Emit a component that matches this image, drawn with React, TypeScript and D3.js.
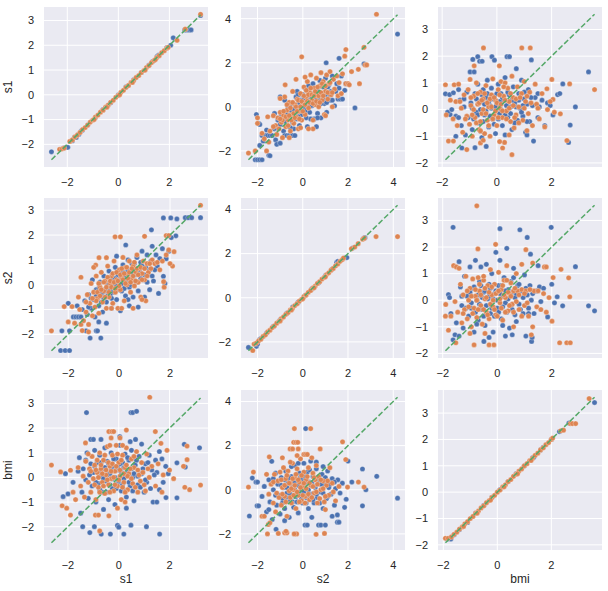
import React from 'react';
import * as d3 from 'd3';

type P = [number, number];

const varNames = ['s1', 's2', 'bmi'];
const xTicksByCol = [[-2, 0, 2], [-2, 0, 2, 4], [-2, 0, 2]];
const yTicksByCol = [[-2, -1, 0, 1, 2, 3], [-2, 0, 2, 4], [-2, -1, 0, 1, 2, 3]];

// row s1 / col s1
const tlBlue: P[] = [[-2.62,-2.3],[-2.15,-2.15],[-2.05,-2.12],[-1.98,-2.12],[-1.8,-1.85],[-1.72,-1.72],[-1.65,-1.72],[-1.55,-1.6],[-1.45,-1.45],[-1.4,-1.42],[-1.2,-1.22],[-0.9,-0.92],[-0.6,-0.6],[-0.3,-0.32],[0.0,0.0],[0.3,0.32],[0.6,0.6],[0.9,0.9],[1.2,1.2],[1.35,1.35],[1.52,1.55],[1.58,1.6],[1.9,1.9],[2.05,2.0],[2.15,2.3],[2.6,2.62],[2.68,2.62],[2.78,2.62],[2.85,2.62],[3.22,3.2]];
const tlOrange: P[] = [[-2.3,-2.2],[-2.2,-2.18],[-2.12,-2.15],[-1.9,-1.88],[-1.8,-1.82],[-1.7,-1.7],[-1.6,-1.62],[-1.5,-1.52],[-1.4,-1.4],[-1.3,-1.32],[-1.2,-1.22],[-1.1,-1.1],[-1.0,-1.02],[-0.9,-0.9],[-0.8,-0.82],[-0.7,-0.7],[-0.6,-0.62],[-0.5,-0.5],[-0.4,-0.42],[-0.3,-0.3],[-0.2,-0.22],[-0.1,-0.1],[0.0,-0.02],[0.1,0.1],[0.2,0.18],[0.3,0.3],[0.4,0.38],[0.5,0.5],[0.6,0.58],[0.7,0.7],[0.8,0.78],[0.9,0.9],[1.0,0.98],[1.1,1.1],[1.2,1.18],[1.3,1.3],[1.4,1.38],[1.5,1.5],[1.6,1.58],[1.7,1.7],[1.8,1.78],[1.9,1.88],[1.95,1.92],[2.3,2.2],[2.62,2.65],[3.22,3.25],[-0.95,-1.0],[-0.45,-0.5],[0.05,0.0],[0.55,0.5],[1.05,1.0],[1.45,1.42]];

// row s1 / col s2
const tmBlue: P[] = [[-2.1,-2.4],[-2.0,-2.4],[-1.9,-2.4],[-1.8,-2.4],[-1.5,-2.2],[-1.45,-2.22],[-2.05,-0.35],[-1.95,-0.75],[-1.9,-1.75],[-1.75,-1.55],[-1.8,-1.3],[-1.65,-1.3],[-1.55,-1.3],[-1.45,-1.3],[-1.35,-1.3],[-1.6,-1.05],[-1.25,-1.0],[-1.2,-1.5],[-1.15,-1.7],[-1.0,-1.65],[-1.0,-0.8],[-0.95,-0.35],[-0.9,-0.55],[-0.85,-1.1],[-0.8,-1.3],[-0.7,-1.3],[-0.6,-1.3],[-0.5,-1.3],[-0.45,-1.3],[-0.75,-0.2],[-0.7,-0.6],[-0.65,0.0],[-0.6,-0.9],[-0.55,-0.45],[-0.5,0.15],[-0.45,-0.7],[-0.4,-1.0],[-0.35,-0.2],[-0.3,0.45],[-0.3,-0.55],[-0.25,0.7],[-0.2,0.0],[-0.15,-0.85],[-0.1,0.3],[-0.05,-0.35],[0.0,0.55],[0.05,-0.1],[0.1,0.85],[0.15,-0.5],[0.2,0.25],[0.25,0.95],[0.3,-0.25],[0.35,0.6],[0.4,0.05],[0.45,1.05],[0.5,-0.55],[0.55,0.4],[0.6,0.75],[0.65,-0.3],[0.7,0.2],[0.75,1.2],[0.8,-0.5],[0.85,0.55],[0.9,0.9],[0.95,0.15],[1.0,1.3],[1.05,-0.25],[1.1,0.6],[1.15,1.0],[1.2,0.3],[1.25,0.7],[1.35,0.7],[1.45,0.7],[1.3,1.4],[1.4,0.05],[1.5,1.05],[1.55,0.35],[1.65,0.35],[1.75,0.35],[1.6,0.85],[1.7,1.4],[1.85,0.75],[1.9,1.05],[1.03,2.0],[1.6,2.2],[2.7,1.95],[2.3,-0.05],[4.18,3.3],[-1.0,0.45],[-1.25,-0.3],[-0.8,0.3],[0.2,-0.9],[-0.35,-1.3],[0.6,-0.9],[-1.9,-0.8]];
const tmBlueCore: P[] = [[-0.9,-0.5],[-0.8,-0.65],[-0.7,-0.35],[-0.6,-0.55],[-0.5,-0.2],[-0.45,-0.45],[-0.4,-0.1],[-0.3,-0.3],[-0.25,0.1],[-0.2,-0.45],[-0.15,0.2],[-0.1,-0.15],[0.0,0.1],[0.05,0.35],[0.1,-0.2],[0.15,0.15],[0.2,0.5],[0.25,0.0],[0.3,0.3],[0.35,0.05],[0.4,0.45],[0.45,0.2],[0.5,0.6],[0.55,0.15],[0.6,0.4],[0.7,0.55],[0.75,0.3],[0.8,0.15],[0.9,0.35],[1.0,0.55],[1.05,0.2],[1.1,0.9],[1.2,0.55],[-1.1,-0.6],[-1.2,-0.95],[-0.55,-0.95],[0.35,-0.55],[0.65,-0.5],[0.8,0.95],[1.3,0.3],[-0.2,0.55],[0.2,0.75]];
const tmOrange: P[] = [[3.25,4.2],[-0.05,2.27],[1.9,2.6],[2.7,2.7],[2.75,1.9],[2.82,1.9],[2.45,1.7],[2.15,1.6],[2.5,1.05],[1.85,2.3],[1.9,1.05],[2.0,1.05],[2.05,1.0],[-2.4,-2.1],[-2.1,-2.0],[-1.6,-2.0],[-2.0,-0.75],[-1.5,-1.6],[-1.8,-1.2],[-1.7,-1.45],[-1.45,-1.1],[-1.3,-0.4],[-1.2,-0.85],[-1.15,-1.25],[-1.1,-0.5],[-1.05,-1.0],[-1.0,-0.25],[-0.95,-0.7],[-0.9,-1.4],[-0.85,-0.4],[-0.8,0.45],[-0.75,-0.9],[-0.7,-0.15],[-0.65,-0.6],[-0.6,0.2],[-0.55,-1.1],[-0.5,-0.35],[-0.45,0.7],[-0.4,-0.75],[-0.35,0.1],[-0.3,1.25],[-0.3,-0.45],[-0.25,0.35],[-0.2,-1.0],[-0.15,-0.2],[-0.1,0.6],[-0.05,-0.6],[0.0,0.2],[0.05,0.9],[0.1,-0.35],[0.15,0.45],[0.2,1.15],[0.25,-0.05],[0.3,0.65],[0.35,1.45],[0.4,0.3],[0.45,-0.6],[0.5,0.85],[0.55,0.1],[0.6,1.3],[0.65,0.5],[0.7,0.0],[0.75,0.95],[0.8,1.55],[0.85,0.3],[0.9,1.15],[0.95,-0.35],[1.0,0.7],[1.05,1.45],[1.1,0.35],[1.15,1.05],[1.2,1.6],[1.25,0.55],[1.3,0.0],[1.35,1.25],[1.4,0.8],[1.5,1.4],[1.55,0.5],[1.6,1.1],[1.7,0.6],[1.75,1.5],[0.45,-1.0],[0.25,-1.0],[-0.1,-0.95],[1.0,-0.4],[-1.55,-0.45],[-2.0,-0.5],[0.1,1.35],[-0.6,-1.4],[-0.78,1.0],[-1.0,0.38]];
const tmOrangeCore: P[] = [[-0.9,-0.6],[-0.85,-0.2],[-0.75,-0.45],[-0.7,0.1],[-0.6,-0.4],[-0.55,-0.05],[-0.5,-0.6],[-0.45,0.2],[-0.4,-0.3],[-0.35,-0.5],[-0.3,0.0],[-0.25,-0.2],[-0.2,0.3],[-0.15,-0.55],[-0.1,0.0],[-0.05,0.25],[0.0,-0.2],[0.05,0.5],[0.1,0.1],[0.15,0.75],[0.2,0.25],[0.25,0.55],[0.3,0.2],[0.35,0.85],[0.4,0.55],[0.45,0.15],[0.5,0.5],[0.55,0.7],[0.6,0.25],[0.65,0.9],[0.7,0.5],[0.8,0.65],[0.85,1.05],[0.9,0.5],[1.0,0.95],[1.1,0.65],[1.2,1.1],[1.3,0.65],[-1.3,-0.9],[-1.0,-0.55],[0.75,0.2],[-0.65,-0.85]];

// row s1 / col bmi
const trBlue: P[] = [[-1.88,0.59],[-1.73,0.56],[-1.59,0.63],[-1.71,-0.19],[-1.8,-0.1],[-1.65,0.0],[-1.5,-0.25],[-1.28,-1.44],[-1.4,0.75],[-1.35,0.35],[-1.3,-0.6],[-1.2,0.1],[-1.15,-0.95],[-1.1,0.65],[-1.05,-0.3],[-0.98,1.41],[-0.95,0.25],[-0.9,-0.75],[-0.88,1.88],[-0.83,1.41],[-0.8,-1.43],[-0.8,0.6],[-0.75,-0.1],[-0.7,1.98],[-0.7,0.95],[-0.65,-0.5],[-0.63,1.81],[-0.6,0.3],[-0.55,-1.05],[-0.54,1.81],[-0.5,0.75],[-0.45,-0.2],[-0.4,0.45],[-0.39,-1.38],[-0.35,1.1],[-0.3,-0.65],[-0.25,0.15],[-0.2,0.8],[-0.18,1.98],[-0.15,-0.35],[-0.1,0.5],[-0.09,1.85],[-0.05,-0.9],[0.0,0.2],[0.05,0.95],[0.1,-0.15],[0.15,0.6],[0.2,-0.6],[0.25,0.35],[0.3,1.2],[0.37,1.98],[0.46,1.98],[0.4,-0.3],[0.45,0.55],[0.5,0.1],[0.55,-0.75],[0.6,0.85],[0.65,0.25],[0.71,1.53],[0.75,-0.4],[0.8,0.6],[0.85,0.05],[0.9,1.1],[0.95,-0.25],[1.0,0.4],[1.05,-0.85],[1.1,0.2],[1.15,0.75],[1.2,-0.45],[1.26,1.86],[1.3,0.15],[1.34,-1.18],[1.4,0.45],[1.5,-0.3],[1.55,0.1],[1.65,0.35],[1.75,-0.6],[1.85,0.25],[1.95,0.15],[2.05,-0.2],[2.22,0.56],[2.3,0.6],[2.41,0.96],[2.87,0.1],[3.35,1.41],[2.68,-0.58],[2.62,-1.23],[0.3,-0.95],[-1.5,-1.0],[1.1,-0.95]];
const trBlueCore: P[] = [[-0.9,0.05],[-0.85,-0.35],[-0.75,0.4],[-0.7,-0.2],[-0.6,0.0],[-0.55,0.55],[-0.5,-0.45],[-0.45,0.2],[-0.4,-0.05],[-0.35,0.6],[-0.3,0.3],[-0.25,-0.25],[-0.2,0.05],[-0.15,0.4],[-0.1,-0.55],[-0.05,0.1],[0.0,0.6],[0.05,-0.35],[0.1,0.3],[0.15,0.0],[0.2,0.45],[0.3,-0.2],[0.35,0.15],[0.4,0.65],[0.5,-0.15],[0.55,0.35],[0.65,-0.5],[0.7,0.1],[0.8,0.35],[0.9,-0.1],[1.0,0.65],[1.1,-0.45],[1.25,0.45],[-1.2,0.4],[-1.4,-0.3],[1.5,0.6],[0.95,0.15],[-0.6,-0.8]];
const trOrange: P[] = [[-0.49,2.31],[0.91,2.31],[1.22,2.31],[0.09,1.64],[-0.83,1.64],[-0.98,1.13],[-1.88,0.93],[-1.56,0.93],[2.01,1.13],[1.83,0.78],[3.57,0.75],[2.66,0.96],[2.32,-0.16],[2.05,0.38],[0.55,-1.69],[2.56,-1.16],[-1.1,-1.5],[-1.77,-1.18],[-1.59,-1.18],[0.21,-1.44],[0.28,-1.23],[0.63,-0.69],[1.1,-0.79],[-1.85,-0.2],[-1.6,-0.35],[-1.5,0.3],[-1.45,-0.6],[-1.4,0.95],[-1.3,0.05],[-1.25,-0.85],[-1.2,0.55],[-1.1,-0.25],[-1.05,0.75],[-1.0,-0.55],[-0.95,0.15],[-0.9,-1.0],[-0.85,0.5],[-0.8,-0.3],[-0.75,1.0],[-0.7,0.2],[-0.65,-0.75],[-0.6,0.65],[-0.55,-0.15],[-0.5,0.4],[-0.45,-0.9],[-0.4,0.9],[-0.35,-0.4],[-0.3,0.1],[-0.25,-1.0],[-0.2,0.55],[-0.15,1.15],[-0.1,-0.2],[-0.05,0.35],[0.0,-0.6],[0.05,0.75],[0.1,0.05],[0.15,1.05],[0.2,-0.3],[0.25,0.5],[0.3,1.0],[0.35,-0.05],[0.4,0.8],[0.45,0.3],[0.5,-0.45],[0.55,1.25],[0.6,0.45],[0.7,-0.2],[0.75,0.85],[0.8,0.1],[0.9,0.6],[0.95,-0.4],[1.0,1.05],[1.05,0.3],[1.15,-0.15],[1.2,0.65],[1.3,-0.6],[1.4,0.95],[1.45,0.2],[1.55,-0.35],[1.65,0.6],[1.75,-0.65],[1.85,0.0],[1.95,0.3],[2.1,-0.1],[0.1,-1.2],[-0.6,-1.25],[0.45,-0.95],[-1.7,0.35],[-0.5,-1.15]];
const trOrangeCore: P[] = [[-0.95,0.45],[-0.9,-0.2],[-0.85,0.0],[-0.75,-0.5],[-0.7,0.6],[-0.65,0.25],[-0.6,-0.45],[-0.55,0.35],[-0.5,0.0],[-0.45,0.6],[-0.4,-0.15],[-0.35,0.25],[-0.3,-0.6],[-0.25,0.4],[-0.2,0.1],[-0.15,-0.35],[-0.1,0.45],[-0.05,-0.05],[0.0,0.25],[0.05,-0.3],[0.1,0.55],[0.15,0.2],[0.2,-0.05],[0.25,0.85],[0.3,0.35],[0.35,-0.35],[0.45,0.05],[0.5,0.6],[0.6,0.15],[0.65,-0.3],[0.7,0.4],[0.8,-0.5],[0.85,0.45],[1.0,0.05],[1.1,0.5],[1.25,0.25],[-1.15,-0.35],[-1.35,0.3],[1.5,0.05],[-0.6,-0.8]];

// row s2 / col s1
const mlBlue: P[] = [[3.2,2.7],[2.6,2.7],[2.72,2.7],[2.85,2.7],[2.03,2.69],[2.27,2.65],[1.74,2.69],[1.27,2.21],[2.23,1.97],[0.26,1.6],[1.74,0.34],[1.8,0.05],[1.35,0.15],[-2.3,-2.65],[-2.12,-2.65],[-1.95,-2.65],[-2.25,-1.86],[-1.95,-1.86],[-1.3,-1.86],[-0.9,-1.86],[-0.85,-1.86],[-1.14,-2.15],[-0.72,-2.15],[-0.5,-1.55],[-2.0,-0.75],[-1.8,-1.3],[-1.7,-1.3],[-1.6,-1.3],[-1.5,-1.3],[-1.45,-1.0],[-1.35,-0.65],[-1.25,-1.2],[-1.2,-0.4],[-1.1,-0.95],[-1.05,0.2],[-1.0,-0.6],[-0.95,-1.3],[-0.9,-0.2],[-0.8,-0.85],[-0.75,0.1],[-0.7,-0.45],[-0.65,-1.1],[-0.6,0.35],[-0.55,-0.2],[-0.5,-0.7],[-0.45,0.05],[-0.4,0.55],[-0.35,-0.4],[-0.3,-0.95],[-0.25,0.25],[-0.2,-0.15],[-0.15,0.7],[-0.1,-0.6],[-0.05,0.1],[0.0,0.45],[0.05,-1.05],[0.1,-0.25],[0.15,0.8],[0.2,0.15],[0.25,-0.45],[0.3,0.5],[0.35,1.0],[0.4,-0.1],[0.45,0.3],[0.5,0.85],[0.55,-0.5],[0.6,0.6],[0.65,0.15],[0.7,1.1],[0.75,-0.25],[0.8,0.45],[0.85,0.9],[0.9,1.35],[0.95,0.2],[1.0,-0.5],[1.05,0.7],[1.1,1.2],[1.15,0.4],[1.2,-0.2],[1.25,0.95],[1.3,1.55],[1.4,0.6],[1.45,1.2],[1.5,0.75],[1.6,1.05],[1.7,1.45],[1.85,1.05],[1.95,1.35],[2.05,1.9],[0.75,-0.9],[-1.65,-0.85],[1.55,-0.35],[-0.8,-1.5],[0.4,-0.85],[-0.1,1.15]];
const mlBlueCore: P[] = [[-0.9,-0.45],[-0.8,-0.15],[-0.7,-0.7],[-0.65,-0.3],[-0.6,-0.55],[-0.5,-0.25],[-0.45,-0.45],[-0.4,0.0],[-0.35,-0.2],[-0.3,-0.55],[-0.25,0.05],[-0.2,-0.3],[-0.15,0.25],[-0.1,-0.05],[-0.05,0.4],[0.0,-0.2],[0.05,0.25],[0.1,0.05],[0.15,0.5],[0.2,-0.15],[0.25,0.3],[0.3,0.1],[0.35,0.55],[0.4,0.25],[0.45,0.0],[0.5,0.45],[0.55,0.2],[0.6,0.85],[0.65,0.4],[0.7,0.1],[0.8,0.6],[0.85,0.25],[0.9,0.75],[1.0,0.4],[1.1,0.1],[1.2,0.6],[-1.1,-0.55],[-1.2,-0.9],[1.3,0.35],[0.35,-0.6]];
const mlOrange: P[] = [[3.2,3.2],[1.0,1.95],[1.85,1.98],[1.95,1.98],[-0.16,1.93],[0.05,1.93],[2.16,1.33],[1.95,1.4],[1.77,-0.1],[1.75,0.12],[-2.66,-1.86],[-2.16,-0.88],[-1.85,-0.88],[-1.5,0.3],[-0.79,1.09],[-0.5,1.09],[-0.92,0.79],[-1.6,-0.5],[-1.55,-1.0],[-1.5,-1.6],[-1.45,-1.85],[-1.4,-1.45],[-1.3,-1.1],[-1.25,-0.4],[-1.2,-1.6],[-1.15,-0.75],[-1.1,0.05],[-1.05,-1.25],[-1.0,-0.3],[-0.95,-0.9],[-0.9,0.35],[-0.85,-0.55],[-0.8,-1.15],[-0.75,-0.1],[-0.7,0.5],[-0.65,-0.7],[-0.6,-0.25],[-0.55,0.15],[-0.5,-0.95],[-0.45,0.75],[-0.4,-0.5],[-0.35,0.05],[-0.3,0.35],[-0.25,-0.75],[-0.2,0.95],[-0.15,-0.3],[-0.1,0.2],[-0.05,-0.95],[0.0,0.6],[0.05,-0.2],[0.1,0.3],[0.15,1.1],[0.2,-0.65],[0.25,0.7],[0.3,0.0],[0.35,0.4],[0.4,0.95],[0.45,-0.3],[0.5,0.25],[0.55,0.75],[0.6,-0.05],[0.65,0.5],[0.7,1.2],[0.75,0.1],[0.8,0.65],[0.85,-0.5],[0.9,0.45],[0.95,0.95],[1.0,0.2],[1.05,-0.65],[1.1,0.85],[1.15,0.5],[1.25,0.65],[1.3,1.0],[1.4,0.85],[1.5,0.9],[1.6,0.6],[1.7,0.95],[1.85,1.2],[2.1,0.75],[2.0,0.85],[-1.2,-1.9],[-0.3,-0.95],[0.55,-0.95],[-2.0,-1.5],[-1.75,-1.55],[0.9,-0.6],[-1.0,0.7],[0.1,-0.95]];
const mlOrangeCore: P[] = [[-0.9,-0.65],[-0.85,-0.3],[-0.8,0.05],[-0.75,-0.45],[-0.7,-0.2],[-0.6,0.1],[-0.55,-0.5],[-0.5,-0.1],[-0.45,0.3],[-0.4,-0.3],[-0.35,0.15],[-0.3,-0.1],[-0.25,0.45],[-0.2,0.1],[-0.15,-0.15],[-0.1,0.5],[-0.05,0.15],[0.0,-0.05],[0.05,0.4],[0.1,0.65],[0.15,0.2],[0.2,0.45],[0.25,0.05],[0.3,0.7],[0.35,0.25],[0.4,0.5],[0.45,0.1],[0.5,0.65],[0.55,0.35],[0.6,0.9],[0.65,0.15],[0.7,0.65],[0.75,0.4],[0.85,0.7],[0.9,0.2],[1.0,0.65],[1.1,0.35],[-1.05,-0.55],[-1.3,-0.7],[1.2,0.85]];

// row s2 / col s2
const mmBlue: P[] = [[-2.4,-2.25],[-2.05,-2.2],[-2.0,-2.1],[-1.9,-1.88],[-1.85,-1.85],[-1.6,-1.6],[-1.3,-1.3],[-1.0,-1.0],[-0.7,-0.7],[-0.45,-0.42],[-0.2,-0.2],[0.1,0.1],[0.4,0.4],[0.7,0.68],[1.0,1.0],[1.3,1.3],[1.5,1.6],[1.55,1.65],[1.9,1.82],[1.95,1.82],[2.2,2.25],[2.7,2.7],[2.75,2.72]];
const mmOrange: P[] = [[-2.21,-2.39],[-2.15,-2.1],[-2.05,-2.05],[-1.95,-1.95],[-1.85,-1.88],[-1.75,-1.75],[-1.65,-1.68],[-1.55,-1.55],[-1.45,-1.47],[-1.35,-1.35],[-1.25,-1.27],[-1.15,-1.15],[-1.05,-1.07],[-0.95,-0.95],[-0.85,-0.87],[-0.75,-0.75],[-0.65,-0.67],[-0.55,-0.55],[-0.45,-0.47],[-0.35,-0.35],[-0.25,-0.27],[-0.15,-0.15],[-0.05,-0.07],[0.05,0.05],[0.15,0.13],[0.25,0.25],[0.35,0.33],[0.45,0.45],[0.55,0.53],[0.65,0.65],[0.75,0.73],[0.85,0.85],[0.95,0.93],[1.05,1.05],[1.15,1.13],[1.25,1.25],[1.35,1.33],[1.45,1.45],[1.55,1.53],[1.65,1.65],[1.75,1.73],[1.8,1.8],[2.15,2.22],[2.3,2.3],[2.45,2.45],[2.65,2.65],[2.72,2.7],[3.24,2.77],[4.19,2.77],[-1.0,-1.05],[-0.5,-0.55],[0.0,-0.05],[0.5,0.45],[1.0,0.95]];

// row s2 / col bmi
const mrBlue: P[] = [[-1.62,2.74],[0.1,2.69],[0.83,2.65],[1.1,2.36],[1.98,2.74],[2.87,1.26],[3.35,-0.21],[3.57,-0.4],[2.4,-0.21],[2.2,0.13],[1.5,1.3],[1.22,1.73],[1.85,-0.63],[-0.49,-1.55],[1.26,-1.55],[1.28,-1.4],[-1.62,-1.49],[-1.79,0.21],[-1.75,0.1],[-1.7,-0.5],[-1.55,-1.3],[-1.5,-0.85],[-1.4,1.45],[-1.35,0.5],[-1.3,-0.2],[-1.25,-1.05],[-1.2,0.9],[-1.1,0.15],[-1.05,-0.6],[-1.0,1.25],[-0.95,-0.3],[-0.9,0.45],[-0.85,-1.2],[-0.8,1.5],[-0.75,0.0],[-0.7,-0.75],[-0.65,0.7],[-0.6,1.25],[-0.55,-0.35],[-0.5,0.3],[-0.45,-0.95],[-0.4,1.35],[-0.35,0.05],[-0.3,0.6],[-0.25,-0.5],[-0.2,1.0],[-0.15,-1.2],[-0.1,0.25],[-0.05,1.8],[0.0,-0.3],[0.05,0.55],[0.1,1.5],[0.15,-0.7],[0.2,0.15],[0.25,0.85],[0.3,-0.1],[0.35,1.95],[0.4,0.4],[0.45,-1.05],[0.5,0.7],[0.55,-0.35],[0.6,1.2],[0.65,0.1],[0.7,-0.8],[0.75,0.55],[0.8,-0.15],[0.9,0.35],[0.95,-0.5],[1.0,0.95],[1.05,-1.35],[1.1,0.2],[1.15,-0.3],[1.2,0.55],[1.3,0.25],[1.35,-0.5],[1.45,0.35],[1.55,0.5],[1.6,-0.05],[1.7,0.45],[2.0,0.6],[2.1,-0.1],[-1.4,-1.35],[0.3,-1.35],[0.55,-1.3],[-0.3,-1.4]];
const mrBlueCore: P[] = [[-1.15,-0.3],[-1.0,0.3],[-0.95,-0.1],[-0.85,0.5],[-0.8,-0.45],[-0.7,0.2],[-0.65,-0.15],[-0.6,0.55],[-0.55,0.1],[-0.5,-0.6],[-0.45,0.35],[-0.4,-0.2],[-0.3,0.15],[-0.25,0.45],[-0.2,-0.3],[-0.15,0.05],[-0.1,-0.6],[-0.05,0.35],[0.0,0.0],[0.05,-0.45],[0.1,0.25],[0.15,0.55],[0.2,-0.25],[0.3,0.35],[0.35,-0.45],[0.4,0.05],[0.5,-0.2],[0.55,0.3],[0.65,-0.55],[0.7,0.25],[0.8,0.6],[0.85,-0.35],[0.95,0.1],[1.05,0.45],[1.15,-0.5],[1.25,0.0],[-1.3,0.15],[-0.75,-0.9],[0.2,-0.95],[0.6,0.85]];
const mrOrange: P[] = [[-0.75,3.55],[-0.71,1.93],[-0.06,2.1],[1.05,1.9],[1.73,1.25],[1.8,1.25],[2.34,1.16],[2.62,0.84],[2.66,0.13],[2.29,-1.6],[2.55,-1.6],[2.68,-1.6],[2.01,-0.79],[-0.85,-1.68],[-0.3,-1.68],[-0.12,-1.68],[-1.52,-1.6],[-1.89,-0.16],[-1.9,-0.6],[-1.79,-1.13],[-1.6,1.3],[-1.5,1.25],[-1.4,1.2],[-1.55,-0.05],[-1.45,-0.45],[-1.35,0.6],[-1.3,-0.85],[-1.25,0.2],[-1.2,-0.35],[-1.15,0.9],[-1.1,-0.7],[-1.05,0.0],[-1.0,0.45],[-0.95,-1.0],[-0.9,0.8],[-0.85,-0.3],[-0.8,0.15],[-0.75,-0.65],[-0.7,0.85],[-0.65,0.35],[-0.6,-0.2],[-0.55,-0.9],[-0.5,0.75],[-0.45,0.05],[-0.4,-0.45],[-0.35,0.55],[-0.3,-0.7],[-0.25,1.15],[-0.2,0.2],[-0.15,-0.25],[-0.1,0.6],[-0.05,-0.55],[0.0,0.3],[0.05,1.05],[0.1,-0.1],[0.15,0.4],[0.2,-0.75],[0.25,0.75],[0.3,0.1],[0.35,1.3],[0.4,-0.4],[0.45,0.25],[0.5,0.65],[0.55,-0.15],[0.6,0.35],[0.7,1.0],[0.75,0.35],[0.8,-0.35],[0.9,0.4],[1.0,-0.2],[1.05,0.35],[1.15,-0.6],[1.2,0.4],[1.3,-1.0],[1.35,0.35],[1.45,-0.25],[1.5,0.35],[1.6,-0.35],[1.7,0.25],[1.8,-0.45],[1.9,0.1],[2.05,0.85],[0.9,1.35],[1.3,1.4],[-1.0,-1.25],[0.6,-1.0],[-0.45,-1.25],[1.25,-1.3],[-1.7,-0.6]];
const mrOrangeCore: P[] = [[-1.1,0.35],[-1.05,-0.25],[-0.95,0.15],[-0.9,-0.5],[-0.8,0.4],[-0.75,0.0],[-0.7,-0.35],[-0.65,0.6],[-0.6,0.2],[-0.5,-0.35],[-0.45,0.45],[-0.4,0.1],[-0.35,-0.55],[-0.3,0.3],[-0.25,-0.15],[-0.2,0.5],[-0.15,0.0],[-0.1,-0.35],[-0.05,0.25],[0.0,-0.6],[0.05,0.35],[0.1,0.05],[0.15,-0.3],[0.2,0.55],[0.25,0.2],[0.3,-0.45],[0.4,0.3],[0.45,-0.2],[0.5,0.15],[0.6,-0.45],[0.65,0.45],[0.7,-0.05],[0.8,0.2],[0.9,-0.6],[1.0,0.25],[1.1,-0.1],[1.2,0.4],[-1.25,-0.5],[-0.5,0.9],[0.35,0.75]];

// row bmi / col s1
const blBlue: P[] = [[-1.27,2.63],[0.48,2.63],[0.55,2.63],[0.7,2.68],[0.04,1.65],[-1.1,1.54],[-1.0,1.54],[-0.7,1.54],[0.66,1.54],[2.58,1.34],[3.18,1.2],[2.62,0.42],[2.29,0.59],[2.29,-0.83],[1.86,-0.82],[1.61,-2.3],[1.09,-2.0],[0.48,-1.94],[0.2,-2.3],[-0.05,-1.95],[0.0,-2.02],[-0.33,-2.3],[-0.69,-2.3],[-0.96,-2.0],[-1.14,-2.24],[-1.42,-2.0],[-2.19,-0.78],[-2.0,-0.67],[-2.1,0.15],[-1.8,-0.2],[-1.6,0.25],[-1.55,0.8],[-1.5,-1.45],[-1.45,-0.6],[-1.4,0.35],[-1.3,-0.1],[-1.25,1.0],[-1.2,-0.85],[-1.1,0.55],[-1.05,-0.35],[-1.0,0.2],[-0.95,1.1],[-0.9,-1.0],[-0.85,0.6],[-0.8,-0.25],[-0.75,0.9],[-0.7,0.05],[-0.65,-0.6],[-0.6,0.35],[-0.55,1.2],[-0.5,-0.15],[-0.45,0.65],[-0.4,-0.9],[-0.35,0.15],[-0.3,1.0],[-0.25,-0.45],[-0.2,0.45],[-0.15,-1.1],[-0.1,0.75],[-0.05,-0.25],[0.0,0.3],[0.05,1.3],[0.1,-0.55],[0.15,0.6],[0.2,-0.05],[0.25,0.95],[0.3,-0.8],[0.35,0.2],[0.4,0.7],[0.45,-0.35],[0.5,1.1],[0.55,0.0],[0.6,-0.95],[0.65,0.5],[0.75,-0.3],[0.8,0.85],[0.9,0.15],[1.0,-0.6],[1.05,0.55],[1.1,-0.2],[1.2,0.9],[1.3,0.3],[1.35,-1.0],[1.45,0.7],[1.5,0.2],[1.6,-0.5],[1.7,0.75],[1.75,-0.2],[1.85,0.45],[1.95,0.15],[1.6,1.05],[0.9,1.35],[0.3,-1.25],[-0.6,-1.3],[1.5,-1.0]];
const blBlueCore: P[] = [[-0.95,0.45],[-0.9,-0.2],[-0.8,0.25],[-0.75,-0.5],[-0.7,0.6],[-0.6,-0.05],[-0.55,0.4],[-0.5,-0.6],[-0.45,0.1],[-0.4,0.55],[-0.35,-0.3],[-0.3,0.3],[-0.25,-0.05],[-0.2,0.75],[-0.15,0.0],[-0.1,-0.45],[-0.05,0.4],[0.0,-0.15],[0.05,0.55],[0.1,0.2],[0.15,-0.3],[0.2,0.4],[0.25,-0.55],[0.3,0.15],[0.35,0.8],[0.4,-0.2],[0.5,0.35],[0.55,-0.55],[0.6,0.15],[0.7,0.7],[0.75,0.05],[0.85,-0.4],[0.95,0.35],[1.05,-0.1],[1.15,0.6],[1.25,-0.45],[-1.15,0.1],[-1.3,0.7],[1.4,0.1],[0.45,1.45]];
const blOrange: P[] = [[1.22,3.25],[1.44,1.86],[-0.39,1.86],[-0.27,1.86],[-0.2,1.86],[0.3,1.92],[-1.31,1.4],[1.66,1.38],[2.69,1.27],[3.22,-0.31],[2.79,-0.5],[2.69,0.72],[2.55,0.45],[2.6,-0.4],[2.16,-0.05],[-0.75,-2.17],[-0.92,-1.53],[-0.8,-1.53],[-0.39,-1.56],[-1.9,-1.53],[-2.23,-1.15],[-2.05,-1.25],[-2.65,0.5],[-2.29,0.22],[-1.9,0.29],[-1.8,-0.6],[-1.7,-0.9],[-1.6,0.4],[-1.5,-0.35],[-1.4,0.05],[-1.35,-0.8],[-1.3,0.65],[-1.2,-0.2],[-1.15,0.35],[-1.1,-0.6],[-1.05,0.85],[-1.0,-0.05],[-0.95,0.5],[-0.9,-0.9],[-0.85,0.2],[-0.8,-0.4],[-0.75,1.0],[-0.7,0.35],[-0.65,-0.2],[-0.6,0.7],[-0.55,-0.65],[-0.5,0.1],[-0.45,1.25],[-0.4,-0.3],[-0.35,0.45],[-0.3,-0.05],[-0.25,0.9],[-0.2,-0.55],[-0.15,0.25],[-0.1,1.3],[-0.05,-0.35],[0.0,0.6],[0.05,0.05],[0.1,-0.9],[0.15,0.9],[0.2,-0.2],[0.25,0.4],[0.3,1.2],[0.35,-0.5],[0.4,0.15],[0.5,0.75],[0.55,-0.25],[0.6,0.4],[0.7,1.05],[0.75,-0.6],[0.8,0.1],[0.9,0.6],[1.0,-0.3],[1.1,0.95],[1.2,0.0],[1.3,0.45],[1.45,-0.35],[1.55,0.55],[1.75,0.1],[1.9,1.1],[2.0,0.3],[-0.05,-1.25],[0.25,-1.0],[-0.3,1.6],[0.05,1.6],[1.7,-0.6]];
const blOrangeCore: P[] = [[-0.95,-0.3],[-0.9,0.3],[-0.85,0.7],[-0.8,0.0],[-0.75,-0.6],[-0.7,0.5],[-0.65,0.15],[-0.6,-0.35],[-0.55,0.9],[-0.5,0.3],[-0.45,-0.1],[-0.4,0.6],[-0.35,-0.6],[-0.3,0.25],[-0.25,0.55],[-0.2,0.0],[-0.15,-0.3],[-0.1,0.45],[-0.05,0.95],[0.0,-0.1],[0.05,0.3],[0.1,0.7],[0.15,-0.4],[0.2,0.15],[0.25,-0.6],[0.3,0.5],[0.35,0.05],[0.45,0.35],[0.5,-0.05],[0.6,0.85],[0.65,-0.4],[0.75,0.3],[0.85,-0.15],[0.95,0.2],[1.05,-0.55],[1.15,0.35],[-1.2,0.95],[-1.1,0.25],[-0.35,1.3],[0.15,1.3]];

// row bmi / col s2
const bmBlue: P[] = [[4.19,-0.38],[3.27,0.61],[2.64,0.94],[2.64,-0.73],[2.79,0.0],[2.17,0.35],[1.92,-0.43],[1.53,-1.47],[1.6,-1.47],[1.53,-1.14],[0.7,-1.6],[0.8,-1.6],[1.0,-1.6],[0.1,-1.6],[0.2,-1.6],[-1.18,-1.79],[-2.02,-0.73],[-1.95,-0.73],[-2.36,-1.19],[-2.23,0.53],[-2.07,0.35],[-2.0,0.35],[-1.37,1.29],[0.13,2.77],[2.0,1.3],[-1.8,-0.3],[-1.7,0.15],[-1.6,-1.0],[-1.5,0.45],[-1.45,-0.55],[-1.35,-1.35],[-1.3,0.0],[-1.2,0.75],[-1.15,-0.7],[-1.1,0.25],[-1.05,-0.25],[-1.0,-1.1],[-0.95,0.55],[-0.9,-0.4],[-0.85,0.1],[-0.8,-0.85],[-0.75,0.85],[-0.7,-0.15],[-0.65,0.35],[-0.6,-1.25],[-0.55,-0.5],[-0.5,0.6],[-0.45,0.05],[-0.4,-0.8],[-0.35,1.1],[-0.3,-0.3],[-0.25,0.3],[-0.2,-1.05],[-0.15,0.75],[-0.1,-0.1],[-0.05,0.45],[0.0,-0.6],[0.05,1.2],[0.1,0.15],[0.15,-0.35],[0.2,0.8],[0.25,-0.85],[0.3,0.35],[0.35,1.3],[0.4,-0.2],[0.45,0.6],[0.5,-0.6],[0.55,0.1],[0.6,0.95],[0.65,-0.35],[0.7,0.45],[0.8,-0.1],[0.85,0.7],[0.9,-0.85],[0.95,0.25],[1.05,-0.4],[1.1,0.85],[1.15,0.1],[1.25,-0.2],[1.3,0.5],[1.4,-0.7],[1.45,0.05],[1.55,0.45],[1.65,-0.15],[1.75,0.3],[1.85,-0.8],[1.3,-1.2],[0.6,1.25],[-0.2,1.2],[-0.8,-1.4],[0.4,-1.25],[-1.5,-0.9]];
const bmBlueCore: P[] = [[-0.95,0.2],[-0.9,-0.6],[-0.8,0.45],[-0.75,-0.35],[-0.7,0.1],[-0.6,0.55],[-0.55,-0.2],[-0.5,0.25],[-0.45,-0.55],[-0.4,0.35],[-0.35,0.0],[-0.25,-0.55],[-0.2,0.2],[-0.15,-0.25],[-0.1,0.55],[-0.05,-0.4],[0.0,0.2],[0.05,-0.1],[0.1,0.6],[0.15,-0.6],[0.2,0.35],[0.25,0.0],[0.3,-0.3],[0.4,0.3],[0.45,-0.45],[0.5,0.15],[0.6,-0.2],[0.65,0.5],[0.75,-0.6],[0.8,0.25],[0.9,-0.15],[1.0,0.55],[1.1,-0.3],[1.2,0.25],[-1.2,-0.25],[-1.3,0.5],[1.4,0.35],[0.3,0.9],[-0.5,1.05],[0.9,1.05]];
const bmOrange: P[] = [[1.76,2.17],[1.9,1.37],[1.98,0.12],[2.71,0.12],[2.46,0.35],[0.96,-1.98],[0.59,-2.02],[-0.27,-2.0],[-0.38,-2.0],[-0.8,-1.95],[-0.7,-1.95],[-0.74,-1.88],[-1.08,-1.98],[-1.56,-2.0],[-1.52,-1.57],[-1.45,-1.5],[-2.4,0.12],[-2.18,0.8],[-1.48,1.49],[-0.37,2.77],[0.35,2.77],[-0.4,2.15],[-0.3,2.15],[-0.22,2.15],[-0.56,1.85],[-0.45,1.85],[-0.2,1.85],[0.05,1.6],[0.12,1.6],[0.2,1.6],[0.77,1.85],[-1.8,-1.2],[-1.7,-1.2],[-1.6,0.7],[-1.5,-0.2],[-1.4,0.25],[-1.3,-0.6],[-1.25,0.7],[-1.2,-1.0],[-1.1,0.4],[-1.05,-0.35],[-1.0,0.8],[-0.95,-0.7],[-0.9,0.1],[-0.85,1.0],[-0.8,-0.3],[-0.75,0.5],[-0.7,-1.2],[-0.65,0.85],[-0.6,-0.05],[-0.55,0.3],[-0.5,-0.6],[-0.45,1.2],[-0.4,0.0],[-0.35,0.55],[-0.3,-0.85],[-0.25,0.95],[-0.2,-0.25],[-0.15,0.35],[-0.1,1.4],[-0.05,-0.5],[0.0,0.15],[0.05,0.8],[0.1,-0.3],[0.15,0.45],[0.25,1.0],[0.3,-0.45],[0.35,0.2],[0.45,0.75],[0.5,-0.15],[0.55,0.45],[0.65,-0.6],[0.7,0.6],[0.8,0.0],[0.9,0.4],[0.95,-0.55],[1.05,0.2],[1.15,-0.25],[1.3,0.3],[1.45,-0.5],[1.6,0.15],[1.2,1.0],[1.0,-0.9],[-0.9,1.45],[0.4,1.45]];
const bmOrangeCore: P[] = [[-0.95,0.45],[-0.9,-0.2],[-0.8,0.2],[-0.75,-0.55],[-0.7,0.65],[-0.6,0.3],[-0.55,-0.35],[-0.5,0.05],[-0.45,0.5],[-0.4,-0.25],[-0.35,0.2],[-0.3,0.7],[-0.25,-0.1],[-0.2,0.45],[-0.15,-0.55],[-0.1,0.1],[-0.05,0.65],[0.0,-0.25],[0.05,0.3],[0.1,-0.6],[0.15,0.05],[0.2,0.6],[0.25,-0.2],[0.3,0.3],[0.4,-0.35],[0.45,0.15],[0.5,0.55],[0.6,-0.1],[0.65,0.25],[0.75,-0.4],[0.8,0.45],[0.9,0.05],[1.0,-0.3],[1.1,0.4],[-1.15,-0.15],[-1.3,0.35],[-0.55,1.25],[-0.25,1.55],[0.6,1.1],[1.35,-0.1]];

// row bmi / col bmi
const brBlue: P[] = [[-1.85,-1.78],[-1.72,-1.78],[-1.6,-1.62],[-1.4,-1.42],[-1.1,-1.15],[-0.8,-0.8],[-0.5,-0.5],[-0.2,-0.2],[0.1,0.1],[0.4,0.4],[0.7,0.7],[1.0,1.0],[1.3,1.3],[1.35,1.32],[1.6,1.6],[1.7,1.7],[2.0,2.0],[2.3,2.3],[2.65,2.62],[3.6,3.4]];
const brOrange: P[] = [[-1.92,-1.75],[-1.82,-1.75],[-1.7,-1.7],[-1.6,-1.6],[-1.5,-1.52],[-1.4,-1.4],[-1.3,-1.32],[-1.2,-1.2],[-1.1,-1.12],[-1.0,-1.0],[-0.9,-0.92],[-0.8,-0.8],[-0.7,-0.72],[-0.6,-0.6],[-0.5,-0.52],[-0.4,-0.4],[-0.3,-0.32],[-0.2,-0.2],[-0.1,-0.12],[0.0,0.0],[0.1,0.08],[0.2,0.2],[0.3,0.28],[0.4,0.4],[0.5,0.48],[0.6,0.6],[0.7,0.68],[0.8,0.8],[0.9,0.88],[1.0,1.0],[1.1,1.08],[1.2,1.2],[1.3,1.28],[1.4,1.4],[1.5,1.48],[1.6,1.6],[1.7,1.68],[1.8,1.8],[1.9,1.88],[2.0,2.0],[2.05,2.05],[2.35,2.33],[2.45,2.35],[2.7,2.6],[2.78,2.6],[2.9,2.6],[3.4,3.55],[-1.25,-1.3],[-0.75,-0.8],[-0.25,-0.3],[0.25,0.2],[0.75,0.7],[1.25,1.2]];

const panelBlue: P[][][] = [
  [tlBlue, tmBlue.concat(tmBlueCore), trBlue.concat(trBlueCore)],
  [mlBlue.concat(mlBlueCore), mmBlue, mrBlue.concat(mrBlueCore)],
  [blBlue.concat(blBlueCore), bmBlue.concat(bmBlueCore), brBlue],
];
const panelOrange: P[][][] = [
  [tlOrange, tmOrange.concat(tmOrangeCore), trOrange.concat(trOrangeCore)],
  [mlOrange.concat(mlOrangeCore), mmOrange, mrOrange.concat(mrOrangeCore)],
  [blOrange.concat(blOrangeCore), bmOrange.concat(bmOrangeCore), brOrange],
];

const COL_X = [44, 241, 438];
const ROW_Y = [7, 198, 390];
const PW = 164;
const PH = 160;
const BLUE = '#4C72B0';
const ORANGE = '#DD8452';
const GREEN = '#55A868';
const TEXT = '#262626';
const FONT = '"Liberation Sans", Arial, sans-serif';

const fmt = (v: number) => (v < 0 ? '\u2212' + Math.abs(v) : String(v));

function pad(ext: [number, number]): [number, number] {
  const d = ext[1] - ext[0];
  return [ext[0] - d * 0.05, ext[1] + d * 0.05];
}

function Panel({ r, c }: { r: number; c: number }) {
  const blue = panelBlue[r][c];
  const orange = panelOrange[r][c];
  const all = blue.concat(orange);
  const xExt = d3.extent(all, (d) => d[0]) as [number, number];
  const yVals = all.map((d) => d[1]).concat(xExt);
  const yExt = d3.extent(yVals) as [number, number];
  const x = d3.scaleLinear().domain(pad(xExt)).range([0, PW]);
  const y = d3.scaleLinear().domain(pad(yExt)).range([PH, 0]);
  const xt = xTicksByCol[c].filter((t) => t >= x.domain()[0] && t <= x.domain()[1]);
  const yt = yTicksByCol[c].filter((t) => t >= y.domain()[0] && t <= y.domain()[1]);
  const id = `clip-${r}-${c}`;
  const line = d3.line<P>().x((d) => x(d[0])).y((d) => y(d[1]));
  return (
    <g transform={`translate(${COL_X[c]},${ROW_Y[r]})`}>
      <defs>
        <clipPath id={id}>
          <rect x={0} y={0} width={PW} height={PH} />
        </clipPath>
      </defs>
      <rect x={0} y={0} width={PW} height={PH} fill="#EAEAF2" />
      {xt.map((t) => (
        <line key={'gx' + t} x1={x(t)} x2={x(t)} y1={0} y2={PH} stroke="#fff" strokeWidth={1} />
      ))}
      {yt.map((t) => (
        <line key={'gy' + t} x1={0} x2={PW} y1={y(t)} y2={y(t)} stroke="#fff" strokeWidth={1} />
      ))}
      <g clipPath={`url(#${id})`}>
        {blue.map((d, i) => (
          <circle key={'b' + i} cx={x(d[0])} cy={y(d[1])} r={2.6} fill={BLUE} stroke="#fff" strokeWidth={0.4} strokeOpacity={0.7} />
        ))}
        {orange.map((d, i) => (
          <circle key={'o' + i} cx={x(d[0])} cy={y(d[1])} r={2.6} fill={ORANGE} stroke="#fff" strokeWidth={0.4} strokeOpacity={0.7} />
        ))}
        <path d={line([[xExt[0], xExt[0]], [xExt[1], xExt[1]]]) || ''} fill="none" stroke={GREEN} strokeWidth={1.5} strokeDasharray="5.5 2.4" />
      </g>
      {xt.map((t) => (
        <text key={'tx' + t} x={x(t)} y={PH + 11} dy="0.71em" textAnchor="middle" fontSize={11} fill={TEXT} fontFamily={FONT}>
          {fmt(t)}
        </text>
      ))}
      {yt.map((t) => (
        <text key={'ty' + t} x={-10} y={y(t)} dy="0.35em" textAnchor="end" fontSize={11} fill={TEXT} fontFamily={FONT}>
          {fmt(t)}
        </text>
      ))}
      {c === 0 && (
        <text transform={`translate(${-32},${PH / 2}) rotate(-90)`} textAnchor="middle" fontSize={12} fill={TEXT} fontFamily={FONT}>
          {varNames[r]}
        </text>
      )}
      {r === 2 && (
        <text x={PW / 2} y={PH + 24} dy="0.71em" textAnchor="middle" fontSize={12} fill={TEXT} fontFamily={FONT}>
          {varNames[c]}
        </text>
      )}
    </g>
  );
}

export default function App() {
  const cells: [number, number][] = [];
  for (let r = 0; r < 3; r++) for (let c = 0; c < 3; c++) cells.push([r, c]);
  return (
    <svg width={608} height={591} style={{ position: 'absolute', left: 0, top: 0, background: '#fff' }}>
      {cells.map(([r, c]) => (
        <Panel key={`${r}-${c}`} r={r} c={c} />
      ))}
    </svg>
  );
}
